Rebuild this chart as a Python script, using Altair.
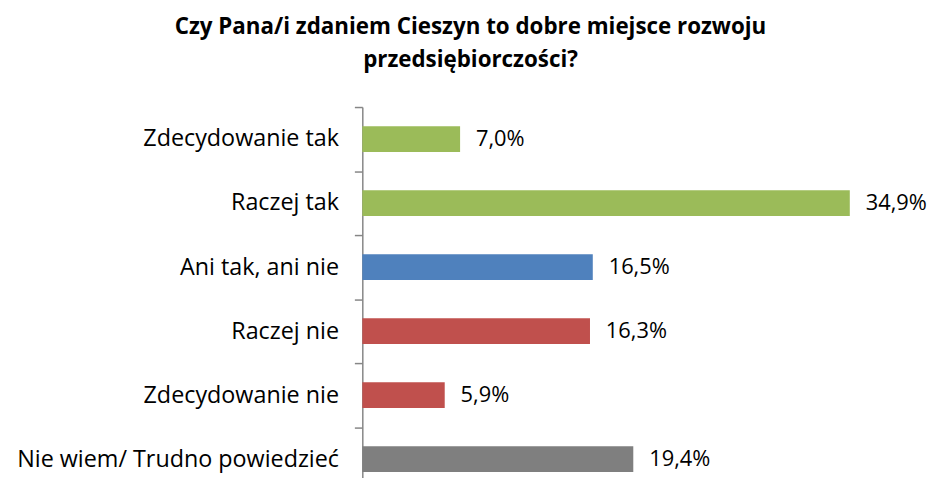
import altair as alt
import pandas as pd

categories = [
    "Zdecydowanie tak",
    "Raczej tak",
    "Ani tak, ani nie",
    "Raczej nie",
    "Zdecydowanie nie",
    "Nie wiem/ Trudno powiedzieć",
]
values = [7.0, 34.9, 16.5, 16.3, 5.9, 19.4]
colors = ["#9BBB59", "#9BBB59", "#4F81BD", "#C0504D", "#C0504D", "#7F7F7F"]
title_lines = [
    "Czy Pana/i zdaniem Cieszyn to dobre miejsce rozwoju",
    "przedsiębiorczości?",
]

df = pd.DataFrame({
    "cat": categories,
    "val": values,
    "color": colors,
    "label": [f"{v:.1f}".replace(".", ",") + "%" for v in values],
})

FONT = "Open Sans"

y = alt.Y(
    "cat:N",
    sort=categories,
    title=None,
    scale=alt.Scale(range=[0, 387], paddingInner=0, paddingOuter=0),
    axis=alt.Axis(
        tickBand="extent",
        tickSize=8,
        tickColor="#868686",
        domainColor="#868686",
        tickWidth=1.5,
        domainWidth=1.5,
        labelFont=FONT,
        labelFontSize=23.5,
        labelColor="#000000",
        labelPadding=16,
        labelLimit=400,
    ),
)
x = alt.X("val:Q", scale=alt.Scale(domain=[0, 40.5], nice=False), axis=None)

bars = alt.Chart(df).mark_bar(size=26).encode(
    y=y, x=x, color=alt.Color("color:N", scale=None)
)
texts = alt.Chart(df).mark_text(
    align="left", baseline="middle", dx=16, font=FONT, fontSize=22, color="#000000"
).encode(y=y, x=x, text="label:N")

chart = (
    alt.layer(bars, texts)
    .properties(
        width=570,
        height=372,
        autosize=alt.AutoSizeParams(type="none"),
        padding={"left": 357, "top": 98, "right": 2, "bottom": 0},
        title=alt.TitleParams(
            text=title_lines,
            font=FONT,
            fontSize=22.5,
            fontWeight="bold",
            color="#000000",
            anchor="middle",
            dx=-176,
            offset=24,
            lineHeight=33,
        ),
    )
    .configure_view(stroke=None)
)

chart.save("out.html", embed_options={"renderer": "svg", "actions": False})
